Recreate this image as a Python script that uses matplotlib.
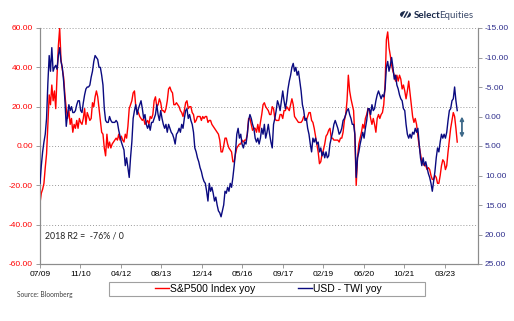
import matplotlib
matplotlib.use("Agg")
import matplotlib.pyplot as plt
from matplotlib.patches import Rectangle, Circle
from matplotlib.lines import Line2D
import pandas as pd

plt.rcParams['axes.unicode_minus'] = False
plt.rcParams['font.family'] = ['Liberation Sans', 'DejaVu Sans']

# ---------------- data ----------------
start_date = '2009-07-01'
end_date = '2023-07-31'

spx_yoy = [
    # 2009-2013
    -29, -24, -22, -19, -11, -4, 11, 26, 21, 31, 23, 28, 19, 36, 51, 60, 44, 39, 35, 26,
    19, 14, 18, 11, 14, 7, 11, 9, 13, 9, 14, 12, 11, 14, 19, 11, 17, 15, 13, 14,
    22, 20, 25, 28, 25, 19, 13, 7, 6, -1, -5, 6, -1, 2, -1, 1, 2, 3, 4, 3,
    6, 3, 5, 3, 2, 6, 4, 10, 19, 21, 23, 27, 28, 20, 18, 17, 15, 14, 13, 14,
    11, 12, 13,
    # 2013-2016
    11, 15, 14, 16, 23, 25, 20, 21, 24, 22, 18, 18, 17, 19, 23, 29, 30, 28, 27, 21,
    21, 22, 21, 20, 18, 17, 15, 18, 22, 23, 19, 20, 20, 17, 16, 12, 13, 15, 15, 15,
    13, 15, 14, 15, 15, 12, 13, 13, 11, 10, 9, 8, 7, 6, 3, -3, -3, 0, 4, 4,
    1, -1, -2, -3, -8, -8, -4, -1, 0, 1, 1, 3, 2, 3, 3, 6, 14, 14, 11, 8,
    9, 9, 7, 11,
    # 2016-2020
    7, 12, 16, 21, 22, 20, 19, 18, 16, 16, 20, 19, 14, 13, 13, 13, 16, 16, 14, 18,
    18, 20, 19, 18, 21, 24, 21, 15, 14, 13, 12, 12, 12, 13, 15, 14, 13, 15, 17, 17,
    13, 12, 9, 5, 1, -3, -9, -8, -4, -2, 1, 5, 6, 8, 9, 4, 4, 3, 3, 3,
    3, 2, 4, 4, 7, 13, 16, 23, 36, 28, 24, 21, 18, 4, -20, -6, 1, 4, 7, 11,
    9, 14, 16, 19,
    # 2020-2023
    18, 14, 11, 14, 11, 7, 14, 16, 14, 16, 17, 21, 31, 54, 58, 50, 46, 41, 38, 36,
    33, 36, 33, 36, 34, 29, 31, 28, 24, 28, 33, 27, 21, 15, 12, 14, 11, 5, 0, -4,
    -8, -9, -10, -10, -12, -11, -12, -15, -17, -17, -15, -16, -19, -19, -15, -10, -7, -8, -12, -10,
    -3, 3, 9, 13, 17, 15, 9, 2,
]

usd_twi_yoy = [
    # 2009-2013 (right axis, inverted)
    11.33, 8.33, 6, 4.33, 3, 0.33, -5.67, -10.33, -7.67, -11.67, -7.67, -8.33, -8.67, -8, -10.33, -11.67,
    -9.33, -8.33, -6, -2.67, 1.67, -0.33, -2, -1, -1.67, -0.67, -0.67, -1, -2, -2.67, -2.67, -1,
    -0.67, -2.33, -3.67, -4.67, -5, -5, -5.33, -6.67, -7.67, -9.33, -10.33, -10, -9.67, -8.33, -8.33, -7,
    -5.33, -1.33, 0.67, 1, 1, 0, 0.67, 1, 1, 1, 0.67, 1, 2.33, 3.33, 4.33, 5,
    5.67, 8.33, 7, 8.67, 10.33, 7, 4.33, 0.33, -1, -2, -0.33, -1.33, -2, -2.67, -1.33, 0.33,
    -0.33, 1.33, 2,
    # 2013-2016
    1.33, 2.33, 1, 1, 0.33, -0.33, -2, -0.33, 0.67, -1, 0.33, 1.33, 2, 1.33, 2.67, 1.33,
    2, 2.67, 3, 3.67, 4.67, 3, 2.67, 2, 2.67, 1.33, 2, 0.33, -1, -1.33, 0.33, -0.33,
    0.67, 1.33, 2.67, 5.33, 6, 7, 7.67, 8.67, 9.33, 10.33, 11, 11.33, 12.67, 14.33, 11.33, 12.67,
    12, 13, 14.33, 13.67, 15, 16, 16.33, 17, 16, 15, 12.67, 13, 12, 12.67, 11.33, 12,
    10.33, 8.33, 6, 3, 2, 3.67, 3, 4.67, 5.33, 4.33, 4.67, 3, 0.67, -0.33, 0.33, 1.33,
    2, 3.67, 4.33, 3.67,
    # 2016-2020
    4.67, 3.67, 2, 3, 1.33, 3.67, 2.67, 1.33, 3, 4.33, 5.33, 1.33, 0.33, -1, -2.67, -2,
    -1, -2.67, -4.33, -2.67, -1.33, -2.67, -4.67, -6, -7, -8.33, -9, -7.67, -8.33, -7, -7.67, -6,
    -4.33, -2, -1, 0.67, 0.33, 2, 3, 4.67, 6, 3.67, 4.33, 3.67, 4.67, 4.33, 6, 5.33,
    6.67, 6, 7, 6, 7, 6.67, 4.67, 3.67, 2.67, 1.33, 0.67, 1.33, 2, 3, 2.67, 2,
    0.67, 0.33, -0.33, -1, -1.33, -0.33, 0.33, 1.33, 1.33, 3, 10.33, 7, 6, 4.67, 3.67, 2.67,
    3.67, 2, 0.67, -1.33,
    # 2020-2023
    -1.33, -0.33, -2, -1, -1.33, -2.67, -3.67, -4.33, -3.67, -3, -3.67, -3.33, -4.67, -8.33, -9.33, -7.67,
    -8.67, -10, -8.33, -6.33, -7, -5.33, -4.67, -3.67, -3, -2.67, -1.33, -1, 1.33, 3, 3.67, 3,
    3.67, 2.67, 3, 2, 2.67, 2, 4.67, 7, 8.33, 7, 8.33, 7.67, 8.67, 9.67, 10.33, 11.33,
    12.67, 11, 9.33, 7, 5.33, 6, 4.33, 3, 3.67, 3, 3.67, 2.67, 0.67, -1, -1.33, -2.67,
    -3, -5, -2.67, -1,
]

left_ticks = [60, 40, 20, 0, -20, -40, -60]
right_ticks = [-15, -10, -5, 0, 5, 10, 15, 20, 25]
x_tick_labels = ['07/09', '11/10', '04/12', '08/13', '12/14', '05/16',
                 '09/17', '02/19', '06/20', '10/21', '03/23']
x_tick_start = '2009-07-01'
x_tick_step_days = 499
x_end = '2024-04-12'

n = min(len(spx_yoy), len(usd_twi_yoy))
dates = pd.date_range(start_date, end_date, periods=n)

# ---------------- figure ----------------
W, H = 514, 321
fig = plt.figure(figsize=(W / 100, H / 100), dpi=100)
ax = fig.add_axes([40 / W, 1 - 264 / H, 438 / W, 236 / H])
ax2 = ax.twinx()

red = '#FF0000'
navy = '#0A0A80'
grey = '#8C8C8C'

ax.plot(dates, spx_yoy[:n], color=red, lw=1.0, label='S&P500 Index yoy', zorder=3)
ax2.plot(dates, usd_twi_yoy[:n], color=navy, lw=1.0, label='USD - TWI yoy', zorder=3)

ax.set_ylim(-60, 60)
ax2.set_ylim(25, -15)
xt = pd.date_range(x_tick_start, periods=len(x_tick_labels), freq=f'{x_tick_step_days}D')
ax.set_xlim(pd.Timestamp(x_tick_start), pd.Timestamp(x_end))
ax.set_xticks(xt)
ax.set_xticklabels(x_tick_labels)

ax.set_yticks(left_ticks)
ax.set_yticklabels([f'{v:.2f}' for v in left_ticks])
ax2.set_yticks(right_ticks)
ax2.set_yticklabels([f'{v:.2f}' for v in right_ticks])

for a in (ax, ax2):
    a.spines['top'].set_visible(False)
    for s in ('left', 'right', 'bottom'):
        a.spines[s].set_color(grey)
        a.spines[s].set_linewidth(0.8)

ax.tick_params(axis='y', colors=grey, labelcolor=red, labelsize=6, length=3, width=0.6, pad=2)
ax2.tick_params(axis='y', colors=grey, labelcolor='#2E2E8C', labelsize=6, length=3, width=0.6, pad=2)
ax.tick_params(axis='x', colors=grey, labelcolor='black', labelsize=6, length=3, width=0.6, pad=2)

for v in left_ticks[:-1]:
    ax.axhline(v, color='#9A9A9A', lw=0.7, ls=(0, (1, 2)), zorder=1)

# annotation
ax.text(0.012, 0.119, '2018 R2 =  -76% / 0', transform=ax.transAxes, fontsize=6.3,
        family=['Lato', 'DejaVu Sans'], color='#222222', va='center', ha='left')

# double arrow
ax2.annotate('', xy=(pd.Timestamp('2023-09-27'), 0.0), xytext=(pd.Timestamp('2023-09-27'), 3.6),
             arrowprops=dict(arrowstyle='<|-|>', color='#3F6A8A', lw=1.3,
                             mutation_scale=5, shrinkA=0, shrinkB=0))

# legend frame + legend
fig.patches.append(Rectangle((109 / W, 1 - 296 / H), 316 / W, 14 / H, transform=fig.transFigure,
                             facecolor='white', edgecolor='#A0A0A0', lw=0.8))
handles = [Line2D([], [], color=red, lw=1.0), Line2D([], [], color=navy, lw=1.0)]
fig.legend(handles, ['S&P500 Index yoy', 'USD - TWI yoy'], loc='center',
           bbox_to_anchor=(268 / W, 1 - 289 / H), ncol=2, frameon=False,
           fontsize=7.5, handlelength=1.35, handletextpad=0.1, columnspacing=4.1,
           borderpad=0, borderaxespad=0)

# source
fig.text(17 / W, 1 - 295 / H, 'Source: Bloomberg', fontsize=4.8, color='#404040',
         family=['Lato', 'DejaVu Sans'], va='center', ha='left')

# logo
fig.patches.append(Circle((405.5 / W, 1 - 14.5 / H), 5.5 / W, transform=fig.transFigure,
                          facecolor='#1B2A4A', edgecolor='none'))
for dx in (-1.5, 1.8):
    fig.lines.append(Line2D([(403 + dx) / W, (408.5 + dx) / W], [1 - 19.5 / H, 1 - 9.5 / H],
                            transform=fig.transFigure, color='white', lw=1.0))
t1 = fig.text(414 / W, 1 - 15 / H, 'Select', fontsize=7, fontweight='bold', color='#1B2A4A',
              family=['Lato', 'DejaVu Sans'], va='center', ha='left')
fig.canvas.draw()
bb = t1.get_window_extent(renderer=fig.canvas.get_renderer())
fig.text((bb.x1 - 1.5) / W, 1 - 15 / H, 'Equities', fontsize=7, color='#3C4A6A',
         family=['Lato', 'DejaVu Sans'], va='center', ha='left')

fig.savefig('out.png', dpi=100)
